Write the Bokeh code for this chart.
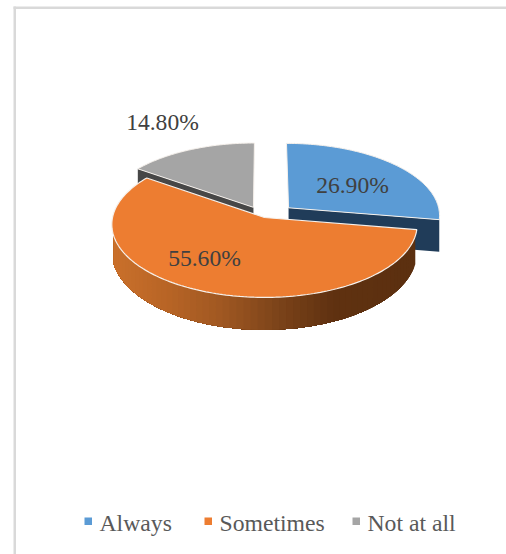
import numpy as np
from bokeh.embed import file_html
from bokeh.models import Range1d
from bokeh.plotting import figure
from bokeh.resources import INLINE
from bokeh.core.properties import value

categories = ["Always", "Sometimes", "Not at all"]
shares = [26.9, 55.6, 14.8]
share_labels = ["26.90%", "55.60%", "14.80%"]
top_colors = ["#5B9BD5", "#ED7D31", "#A5A5A5"]
cut_colors = ["#203C59", "#8A4A1C", "#474747"]
explode = [0.21, 0.0, 0.16]

# Projection of the tilted disc onto the page
CX, CY = 264.0, 217.0
RX, RY = 152.0, 72.3
PERSP = 0.095
DEPTH = 32.0
EDGE = "#F6F1EC"
FONT = "Liberation Serif"


def project(u, v):
    w = 1 + PERSP * v
    return CX + RX * u / w, CY - RY * v / w


def wall_color(x):
    stops = [112, 170, 225, 280, 335, 416]
    reds = [203, 184, 160, 125, 96, 92]
    greens = [113, 101, 88, 68, 50, 48]
    blues = [44, 38, 34, 26, 17, 16]
    return "#%02x%02x%02x" % (
        int(np.interp(x, stops, reds)),
        int(np.interp(x, stops, greens)),
        int(np.interp(x, stops, blues)),
    )


# Slice angles run clockwise from twelve o'clock, normalised over the shown total
sweeps = np.array(shares) / sum(shares) * 360
starts = 90 - np.concatenate([[0], np.cumsum(sweeps)[:-1]])
ends = starts - sweeps


def outline(i, n=90):
    mid = np.radians((starts[i] + ends[i]) / 2)
    ou, ov = explode[i] * np.cos(mid), explode[i] * np.sin(mid)
    t = np.radians(np.linspace(starts[i], ends[i], n))
    us = np.concatenate([[ou], ou + np.cos(t)])
    vs = np.concatenate([[ov], ov + np.sin(t)])
    return project(us, vs), (ou, ov), t


p = figure(width=506, height=554, output_backend="svg", toolbar_location=None,
           x_range=Range1d(0, 506), y_range=Range1d(554, 0),
           min_border=0, outline_line_color=None, background_fill_color="white",
           border_fill_color="white")
p.axis.visible = False
p.grid.visible = False

# Chart frame: only its top and left edges are in view
p.quad(left=[13, 13], right=[506, 15.5], top=[6, 6], bottom=[8.5, 554],
       fill_color="#D9D9D9", line_color=None)

# Back slices: cut faces, then top faces
for i in (2, 0):
    (xs, ys), (ou, ov), t = outline(i)
    ax, ay = xs[0], ys[0]
    ex, ey = (xs[-1], ys[-1]) if i == 0 else (xs[1], ys[1])
    p.patch([ax, ex, ex, ax], [ay, ey, ey + DEPTH, ay + DEPTH],
            fill_color=cut_colors[i], line_color=None)
    p.patch(xs, ys, fill_color=top_colors[i], line_color=EDGE, line_width=1)

# Orange slice: the outer wall is painted left to right, each band running to
# the slice's end so that no seams show, then the top face goes over it
(xs, ys), _, t = outline(1, n=170)
rim_x, rim_y = xs[1:], ys[1:]
keep = rim_y >= CY + 18
wall_x, wall_y = rim_x[keep], rim_y[keep]
wall_v = -(wall_y - CY) / RY
wall_drop = DEPTH + 5 * (wall_v + 1) * -1
low_y = wall_y + wall_drop
for k in range(0, len(wall_x) - 1, 2):
    px = np.concatenate([wall_x[k:], low_y[k:] * 0 + wall_x[k:][::-1]])
    py = np.concatenate([wall_y[k:], low_y[k:][::-1]])
    p.patch(px, py, fill_color=wall_color(wall_x[k]), line_color=None)
p.patch(xs, ys, fill_color=top_colors[1], line_color=EDGE, line_width=1.2)

# Value labels
label_x = [352, 204, 162]
label_y = [184, 257, 121]
p.text(x=label_x, y=label_y, text=share_labels, text_font=value(FONT),
       text_font_size="23.6px", text_color="#404040", text_align="center",
       text_baseline="middle")

# Legend
swatch_x = [84, 204, 352]
text_x = [99, 219, 367]
p.quad(left=swatch_x, right=[x + 7.5 for x in swatch_x], top=[517] * 3, bottom=[524.5] * 3,
       fill_color=top_colors, line_color=None)
p.text(x=text_x, y=[522] * 3, text=categories, text_font=value(FONT),
       text_font_size="23.7px", text_color="#595959", text_align="left",
       text_baseline="middle")

open("out.html", "w").write(file_html(p, INLINE))
